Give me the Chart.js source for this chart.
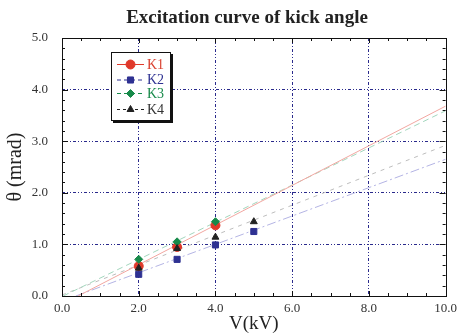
<!DOCTYPE html>
<html lang="en">
<head>
    <meta charset="UTF-8">
    <title>Excitation curve of kick angle</title>
    <script src="https://cdn.jsdelivr.net/npm/chart.js"></script>
    <style>
        body {
            margin: 0;
            padding: 0;
            background: #ffffff;
        }

        .wrap {
            width: 462px;
            height: 335px;
            position: relative;
        }
    </style>
</head>
<body>
    <div class="wrap">
        <canvas id="kickChart"></canvas>
    </div>

    <script>
        // measured points
        const seriesNames = ["K1", "K2", "K3", "K4"];
        const voltsK1 = [2, 3, 4];
        const angleK1 = [0.58, 0.95, 1.37];
        const voltsK2 = [2, 3, 4, 5];
        const angleK2 = [0.42, 0.71, 0.99, 1.25];
        const voltsK3 = [2, 3, 4];
        const angleK3 = [0.71, 1.05, 1.44];
        const voltsK4 = [2, 3, 4, 5];
        const angleK4 = [0.54, 0.92, 1.14, 1.44];

        // fitted lines, end points
        const fitX1 = [0.42, 10];
        const fitY1 = [0, 3.68];
        const fitX2 = [0.36, 10];
        const fitY2 = [0, 2.65];
        const fitX3 = [0.03, 10];
        const fitY3 = [0, 3.59];
        const fitX4 = [0, 10];
        const fitY4 = [0.02, 2.92];

        const titleText = "Excitation curve of kick angle";
        const serif = "'Liberation Serif', 'Times New Roman', serif";
        const navy = "#2a2a8c";

        const pts = (xs, ys) => xs.map((x, i) => ({ x: x, y: ys[i] }));

        const looks = [
            { color: "#e0392b", text: "#d9402f", style: "circle", radius: 4.5, dash: [] },
            { color: "#2e3192", text: "#2e3192", style: "rect", radius: 4.3, dash: [4, 3] },
            { color: "#178a4a", text: "#178a4a", style: "rectRot", radius: 4, dash: [4, 3] },
            { color: "#222222", text: "#333333", style: "triangle", radius: 4, dash: [3, 3] },
        ];

        const pointSets = [
            pts(voltsK1, angleK1),
            pts(voltsK2, angleK2),
            pts(voltsK3, angleK3),
            pts(voltsK4, angleK4),
        ];

        const datasets = [];
        pointSets.forEach((d, i) => {
            datasets.push({
                label: seriesNames[i],
                data: d,
                showLine: false,
                pointStyle: looks[i].style,
                pointRadius: looks[i].radius,
                pointBackgroundColor: looks[i].color,
                pointBorderColor: looks[i].color,
                pointBorderWidth: 1,
                order: 4 - i,
            });
        });

        const fits = [
            { data: pts(fitX1, fitY1), color: "#f2a7a1", dash: [] },
            { data: pts(fitX2, fitY2), color: "#b4b4e4", dash: [9, 3, 2, 3] },
            { data: pts(fitX3, fitY3), color: "#a3d6bd", dash: [6, 4] },
            { data: pts(fitX4, fitY4), color: "#bdbdbd", dash: [4, 5] },
        ];
        fits.forEach((f, i) => {
            datasets.push({
                label: "fit " + seriesNames[i],
                data: f.data,
                showLine: true,
                borderColor: f.color,
                borderWidth: 1,
                borderDash: f.dash,
                pointRadius: 0,
                fill: false,
                order: 10 + i,
            });
        });

        const hideEdge = (edges) => (c) =>
            c.tick && edges.includes(c.tick.value) ? "rgba(0,0,0,0)" : navy;

        const frameAndLegend = {
            id: "frameAndLegend",
            afterDraw(chart) {
                const ctx = chart.ctx;
                const area = chart.chartArea;
                const xs = chart.scales.x;
                const ys = chart.scales.y;

                ctx.save();
                ctx.strokeStyle = "#111111";
                ctx.lineWidth = 1;
                ctx.setLineDash([]);
                ctx.strokeRect(
                    Math.round(area.left) + 0.5,
                    Math.round(area.top) + 0.5,
                    Math.round(area.right - area.left),
                    Math.round(area.bottom - area.top)
                );

                // inward ticks on all four sides
                ctx.beginPath();
                for (let i = 0; i <= 20; i++) {
                    const px = Math.round(xs.getPixelForValue(i * 0.5)) + 0.5;
                    const len = i % 4 === 0 ? 5 : 3;
                    ctx.moveTo(px, area.bottom);
                    ctx.lineTo(px, area.bottom - len);
                    ctx.moveTo(px, area.top);
                    ctx.lineTo(px, area.top + len);
                }
                for (let i = 0; i <= 25; i++) {
                    const py = Math.round(ys.getPixelForValue(i * 0.2)) + 0.5;
                    const len = i % 5 === 0 ? 6 : 3;
                    ctx.moveTo(area.left, py);
                    ctx.lineTo(area.left + len, py);
                    ctx.moveTo(area.right, py);
                    ctx.lineTo(area.right - len, py);
                }
                ctx.stroke();

                // title
                ctx.fillStyle = "#222222";
                ctx.font = "bold 19px " + serif;
                ctx.textAlign = "center";
                ctx.textBaseline = "middle";
                ctx.fillText(titleText, 247, 18);

                // legend box with shadow
                const box = { x: 111, y: 52, w: 59, h: 68 };
                ctx.fillStyle = "#111111";
                ctx.fillRect(box.x + 2, box.y + 2, box.w + 1, box.h + 1);
                ctx.fillStyle = "#ffffff";
                ctx.fillRect(box.x, box.y, box.w, box.h);
                ctx.strokeRect(box.x + 0.5, box.y + 0.5, box.w, box.h);

                const rowY = [64, 79.5, 93, 109];
                ctx.font = "14px " + serif;
                ctx.textAlign = "left";
                seriesNames.forEach((name, i) => {
                    const lk = looks[i];
                    const y = rowY[i];
                    ctx.strokeStyle = lk.color;
                    ctx.setLineDash(lk.dash);
                    ctx.beginPath();
                    ctx.moveTo(117, y + 0.5);
                    ctx.lineTo(144, y + 0.5);
                    ctx.stroke();
                    ctx.setLineDash([]);
                    ctx.fillStyle = lk.color;
                    Chart.helpers.drawPoint(ctx, {
                        pointStyle: lk.style,
                        radius: lk.radius,
                        rotation: 0,
                        borderWidth: 1,
                    }, 130.5, y + 0.5);
                    ctx.fillStyle = lk.text;
                    ctx.fillText(name, 147, y + 1);
                });
                ctx.restore();
            },
        };

        const config = {
            type: "scatter",
            data: { datasets: datasets },
            options: {
                responsive: true,
                maintainAspectRatio: false,
                animation: false,
                layout: {
                    padding: { top: 38, right: 12, left: 0, bottom: 0 },
                },
                plugins: {
                    legend: { display: false },
                    tooltip: { enabled: false },
                },
                scales: {
                    x: {
                        type: "linear",
                        min: 0,
                        max: 10,
                        afterFit: (s) => { s.height = 39; },
                        ticks: {
                            stepSize: 2,
                            padding: 5,
                            color: "#333333",
                            font: { family: serif, size: 13 },
                            callback: (v) => v.toFixed(1),
                        },
                        grid: {
                            color: hideEdge([0, 10]),
                            lineWidth: 1,
                            drawTicks: false,
                        },
                        border: { display: false, dash: [3, 2, 1, 2, 1, 2] },
                        title: {
                            display: true,
                            text: "V(kV)",
                            color: "#222222",
                            font: { family: serif, size: 19 },
                            padding: { top: 0, bottom: 0 },
                        },
                    },
                    y: {
                        type: "linear",
                        min: 0,
                        max: 5,
                        afterFit: (s) => { s.width = 62; },
                        ticks: {
                            stepSize: 1,
                            padding: 14,
                            color: "#333333",
                            font: { family: serif, size: 13 },
                            callback: (v) => v.toFixed(1),
                        },
                        grid: {
                            color: hideEdge([0, 5]),
                            lineWidth: 1,
                            drawTicks: false,
                        },
                        border: { display: false, dash: [3, 2, 1, 2, 1, 2] },
                        title: {
                            display: true,
                            text: "θ (mrad)",
                            color: "#222222",
                            font: { family: serif, size: 20 },
                            padding: { top: 4, bottom: 0 },
                        },
                    },
                },
            },
            plugins: [frameAndLegend],
        };

        const ctx = document.getElementById("kickChart").getContext("2d");
        const kickChart = new Chart(ctx, config);
    </script>
</body>
</html>
